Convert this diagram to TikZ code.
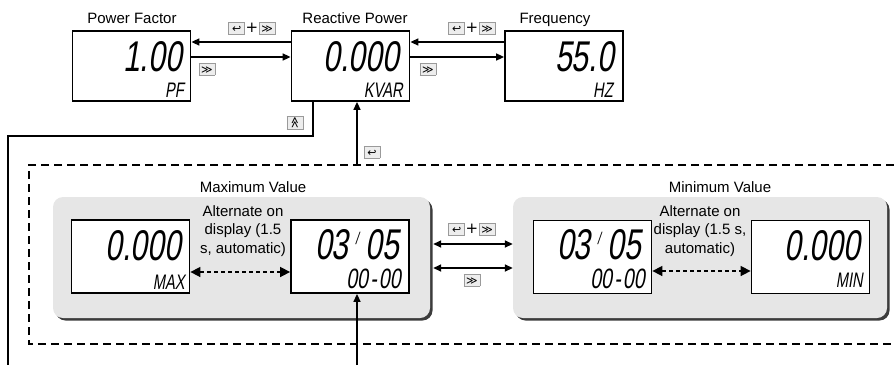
\documentclass[tikz,border=0pt]{standalone}
\usepackage{fontspec}
\usepackage{graphicx}
\setmainfont{Liberation Sans}
\newfontfamily\lcd{Liberation Sans}[FakeSlant=0.16,FakeStretch=0.7]
\newfontfamily\symf{DejaVu Sans}
\usetikzlibrary{arrows.meta}
\definecolor{panel}{HTML}{E6E6E6}
\definecolor{shadowc}{HTML}{3C3C3C}
\definecolor{keyfill}{HTML}{EDEDED}
\definecolor{keyline}{HTML}{9A9A9A}
\newcommand{\keyicon}[1]{{\setlength\fboxsep{0.6pt}\setlength\fboxrule{0.8pt}\fcolorbox{keyline}{keyfill}{\makebox[14pt]{\rule[-1pt]{0pt}{10pt}\symf\fontsize{11}{11}\selectfont #1}}}}
\newcommand{\kEnter}{\keyicon{↩}}
\newcommand{\kShift}{\keyicon{≫}}
\newcommand{\kUp}{\keyicon{\raisebox{-1.5pt}{\rotatebox{90}{≫}}}}
\newcommand{\kPlus}{{\symf\fontsize{15}{15}\selectfont\kern0.5pt+\kern0.5pt}}
\newcommand{\cell}[1]{\setbox0\hbox{0}\hbox to \wd0{\hss#1\hss}}
\newcommand{\lcdslash}{\cell{\raisebox{15pt}{\fontsize{17}{17}\selectfont /}}}
\tikzset{
  lcdbox/.style={draw, line width=1.8pt, minimum width=118pt, minimum height=70pt, inner sep=0pt, fill=white},
  lcdboxb/.style={lcdbox, minimum height=73pt},
  big/.style={font=\lcd\fontsize{43}{43}\selectfont, inner sep=0pt, anchor=base east, text depth=0pt, text height=31pt},
  mid/.style={font=\lcd\fontsize{28}{28}\selectfont, inner sep=0pt, anchor=base east, text depth=0pt, text height=20pt},
  small/.style={font=\lcd\fontsize{21}{21}\selectfont, inner sep=0pt, anchor=base east, text depth=0pt, text height=15pt},
  title/.style={font=\fontsize{15}{18.5}\selectfont, inner sep=0pt},
  line/.style={line width=1.6pt},
  arr/.style={line width=1.6pt, -{Triangle[length=8pt,width=7pt]}},
  darr/.style={line width=1.6pt, {Triangle[length=8pt,width=7pt]}-{Triangle[length=8pt,width=7pt]}},
  dashdarr/.style={line width=1.6pt, dash pattern=on 4pt off 3pt, {Triangle[length=10pt,width=10pt]}-{Triangle[length=10pt,width=10pt]}},
  frame/.style={line width=1.8pt, dash pattern=on 8pt off 5pt},
  keylab/.style={inner sep=0pt},
  panelbox/.style={rounded corners=10pt, inner sep=0pt, fill=panel, minimum height=121pt},
}
\begin{document}
\begin{tikzpicture}[x=1pt,y=-1pt]
\useasboundingbox (0,0) rectangle (894,365);

% dashed frame (open on the right)
\coordinate (ftr) at (894,165);
\coordinate (ftl) at (29,165);
\coordinate (fbl) at (29,344);
\coordinate (fbr) at (894,344);
\draw[frame] (ftr) -- (ftl) -- (fbl) -- (fbr);

% gray panels with shadow
\node[panelbox, fill=shadowc, minimum width=377pt] (gmaxs) at (244,260) {};
\node[panelbox, minimum width=377pt] (gmax) at (241.5,257.5) {};
\node[panelbox, fill=shadowc, minimum width=374pt] (gmins) at (702.5,260) {};
\node[panelbox, minimum width=374pt] (gmin) at (700,257.5) {};

% titles
\node[title, anchor=base] (tpf) at (132,23) {Power Factor};
\node[title, anchor=base] (trp) at (355,23) {Reactive Power};
\node[title, anchor=base] (tfq) at (555,23) {Frequency};
\node[title, anchor=base] (tmax) at (253,192) {Maximum Value};
\node[title, anchor=base] (tmin) at (720,192) {Minimum Value};
\node[title, align=center] (alt1) at (243,231) {Alternate on\\display (1.5\\s, automatic)};
\node[title, align=center] (alt2) at (700,231) {Alternate on\\display (1.5 s,\\automatic)};

% top displays
\node[lcdbox] (pf) at (131.5,66) {};
\node[lcdbox] (rp) at (350.5,66) {};
\node[lcdbox] (fq) at (564,66) {};
\node[big] (pfv) at (182,71) {1.00};
\node[small] (pfu) at (184,97) {PF};
\node[big] (rpv) at (399,71) {0.000};
\node[small] (rpu) at (403,97) {KVAR};
\node[big] (fqv) at (614,71) {55.0};
\node[small] (fqu) at (613,97) {HZ};

% lower displays
\node[lcdboxb] (mx) at (130.5,256.5) {};
\node[lcdboxb] (d1) at (350,256.5) {};
\node[lcdboxb] (d2) at (592.5,257) {};
\node[lcdboxb] (mn) at (810.5,257) {};
\node[big] (mxv) at (181,260) {0.000};
\node[small] (mxu) at (185,289) {MAX};
\node[big] (d1v) at (399,259.5) {03\lcdslash05};
\node[mid] (d1u) at (401,288.5) {00\cell{-}00};
\node[big] (d2v) at (641,259.5) {03\lcdslash05};
\node[mid] (d2u) at (645,288.5) {00\cell{-}00};
\node[big] (mnv) at (860,260) {0.000};
\node[small] (mnu) at (863,287) {MIN};

% top connectors
\draw[arr] ([yshift=24pt]rp.west) -- ([yshift=24pt]pf.east);
\draw[arr] ([yshift=9pt]pf.east) -- ([yshift=9pt]rp.west);
\draw[arr] ([yshift=24pt]fq.west) -- ([yshift=24pt]rp.east);
\draw[arr] ([yshift=9pt]rp.east) -- ([yshift=9pt]fq.west);

% return line to the left
\coordinate (lcorner) at (8,136);
\coordinate (lend) at (8,365);
\draw[line] ([xshift=-37.5pt]rp.south) |- (lcorner) -- (lend);

% arrow from frame to reactive power
\coordinate (ftop) at (357,165);
\draw[arr] (ftop) -- (rp.south -| ftop);

% arrow from bottom into date display
\coordinate (bin) at (357,365);
\draw[arr] (bin) -- (d1.south -| bin);

% alternating arrows
\draw[dashdarr] ([yshift=-15.5pt]mx.east) -- ([yshift=-15.5pt]d1.west);
\draw[dashdarr] ([yshift=-14pt]d2.east) -- ([yshift=-14pt]mn.west);

% arrows between groups
\draw[darr] ([xshift=3pt,yshift=13.5pt]gmax.east) -- ([yshift=13.5pt]gmin.west);
\draw[darr] ([xshift=3pt,yshift=-10.5pt]gmax.east) -- ([yshift=-10.5pt]gmin.west);

% key labels
\node[keylab] (k1) at (252,28) {\kEnter\kPlus\kShift};
\node[keylab] (k2) at (207,69) {\kShift};
\node[keylab] (k3) at (472,28) {\kEnter\kPlus\kShift};
\node[keylab] (k4) at (428,69) {\kShift};
\node[keylab] (k5) at (295,123) {\kUp};
\node[keylab] (k6) at (372,152) {\kEnter};
\node[keylab] (k7) at (472,229) {\kEnter\kPlus\kShift};
\node[keylab] (k8) at (472,280) {\kShift};
\end{tikzpicture}
\end{document}
